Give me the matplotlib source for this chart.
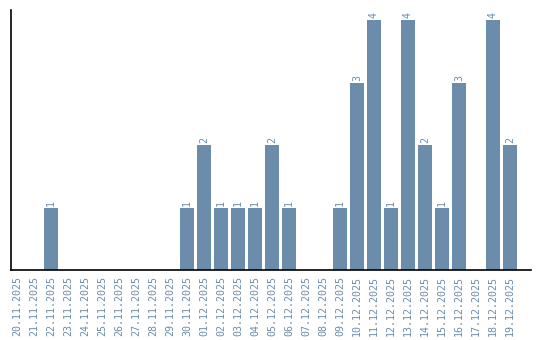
import matplotlib
matplotlib.use("Agg")
import matplotlib.pyplot as plt

dates = ["20.11.2025", "21.11.2025", "22.11.2025", "23.11.2025", "24.11.2025",
         "25.11.2025", "26.11.2025", "27.11.2025", "28.11.2025", "29.11.2025",
         "30.11.2025", "01.12.2025", "02.12.2025", "03.12.2025", "04.12.2025",
         "05.12.2025", "06.12.2025", "07.12.2025", "08.12.2025", "09.12.2025",
         "10.12.2025", "11.12.2025", "12.12.2025", "13.12.2025", "14.12.2025",
         "15.12.2025", "16.12.2025", "17.12.2025", "18.12.2025", "19.12.2025"]
counts = [0, 0, 1, 0, 0, 0, 0, 0, 0, 0,
          1, 2, 1, 1, 1, 2, 1, 0, 0, 1,
          3, 4, 1, 4, 2, 1, 3, 0, 4, 2]

bar_color = "#6b8cab"
text_color = "#6b8cab"

fig = plt.figure(figsize=(5.4, 3.4), dpi=100)
ax = fig.add_axes([11/540, 70/340, 520/540, 260/340])

x = list(range(len(dates)))
ax.bar(x, counts, width=0.82, color=bar_color)
for xi, c in zip(x, counts):
    if c > 0:
        ax.text(xi, c + 0.03, str(c), rotation=90, ha="center", va="bottom",
                color=text_color, fontsize=7.2, family="DejaVu Sans Mono")

ax.set_xlim(-0.35, 30.24)
ax.set_ylim(0, 4.16)
ax.set_xticks(x)
ax.set_xticklabels(dates, rotation=90, color=text_color, fontsize=7.2,
                   family="DejaVu Sans Mono")
ax.tick_params(axis="x", length=0, pad=4.5)
ax.set_yticks([])
for s in ["top", "right"]:
    ax.spines[s].set_visible(False)
for s in ["left", "bottom"]:
    ax.spines[s].set_color("black")
    ax.spines[s].set_linewidth(1.2)

fig.savefig("out.png", dpi=100)
